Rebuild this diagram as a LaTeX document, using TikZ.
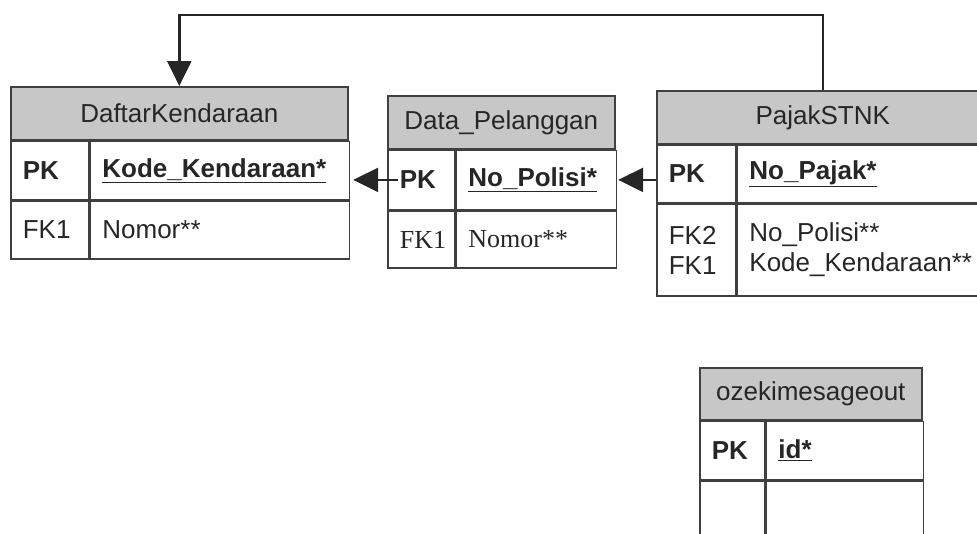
\documentclass[tikz,border=0pt]{standalone}
\usepackage{fontspec}
\setmainfont{Liberation Serif}
\setsansfont{Liberation Sans}
\usepackage{tikz}
\usetikzlibrary{positioning,arrows.meta}

\tikzset{
  tbl/.style={draw=black!75, line width=1.6pt, rectangle, inner ysep=0pt, text=black!85,
    font=\sffamily\fontsize{26}{30}\selectfont},
  head/.style={tbl, fill=black!22, anchor=north west},
  cell/.style={tbl, anchor=north west, inner xsep=12pt, text width=#1},
  fk/.style={draw=black!85, line width=2.4pt, -{Triangle[length=25pt,width=24pt]}}
}

\begin{document}
\begin{tikzpicture}[x=1pt,y=-1pt]
        \useasboundingbox (0,0) rectangle (977,533);
        % DaftarKendaraan
        \node[head, minimum width=337pt, minimum height=53pt] (dk) at (10,86) {DaftarKendaraan};
        \node[cell=54pt, minimum height=58pt] (dkpk) at (dk.south west) {\textbf{PK}};
        \node[cell=235pt, minimum height=58pt] (dkpkf) at (dkpk.north east) {\textbf{\underline{Kode\_Kendaraan*}}};
        \node[cell=54pt, minimum height=58pt] (dkfk) at (dkpk.south west) {FK1};
        \node[cell=235pt, minimum height=58pt] (dkfkf) at (dkfk.north east) {Nomor**};
        % Data_Pelanggan
        \node[head, minimum width=227pt, minimum height=53pt] (dp) at (387,95) {Data\_Pelanggan};
        \node[cell=43pt, minimum height=59pt] (dppk) at (dp.south west) {\textbf{PK}};
        \node[cell=136pt, minimum height=59pt] (dppkf) at (dppk.north east) {\textbf{\underline{No\_Polisi*}}};
        \node[cell=43pt, minimum height=57pt, font=\rmfamily\fontsize{26}{30}\selectfont] (dpfk) at (dppk.south west) {FK1};
        \node[cell=136pt, minimum height=57pt, font=\rmfamily\fontsize{26}{30}\selectfont] (dpfkf) at (dpfk.north east) {Nomor**};
        % PajakSTNK
        \node[head, minimum width=332pt, minimum height=53pt] (ps) at (656,90) {PajakSTNK};
        \node[cell=55pt, minimum height=57pt] (pspk) at (ps.south west) {\textbf{PK}};
        \node[cell=229pt, minimum height=57pt] (pspkf) at (pspk.north east) {\textbf{\underline{No\_Pajak*}}};
        \node[cell=55pt, minimum height=92pt] (psfk) at (pspk.south west) {FK2\\FK1};
        \node[cell=229pt, minimum height=92pt] (psfkf) at (psfk.north east) {No\_Polisi**\\Kode\_Kendaraan**};
        % ozekimesageout
        \node[head, minimum width=222pt, minimum height=52pt] (oz) at (699,367) {ozekimesageout};
        \node[cell=41pt, minimum height=58pt] (ozpk) at (oz.south west) {\textbf{PK}};
        \node[cell=133pt, minimum height=58pt] (ozpkf) at (ozpk.north east) {\textbf{\underline{id*}}};
        \node[cell=41pt, minimum height=70pt] (ozfk) at (ozpk.south west) {};
        \node[cell=133pt, minimum height=70pt] (ozfkf) at (ozfk.north east) {};
        % relasi
        \coordinate (turn) at (823,15);
        \draw[fk] ([xshift=11pt]dppk.west) -- ([xshift=3pt]dppk.west -| dkpkf.east);
        \draw[fk] (pspk.west |- dppkf.east) -- ([xshift=1pt]dppkf.east);
        \draw[fk] (ps.north -| turn) -- (turn) -| (dk.north);
\end{tikzpicture}
\end{document}
